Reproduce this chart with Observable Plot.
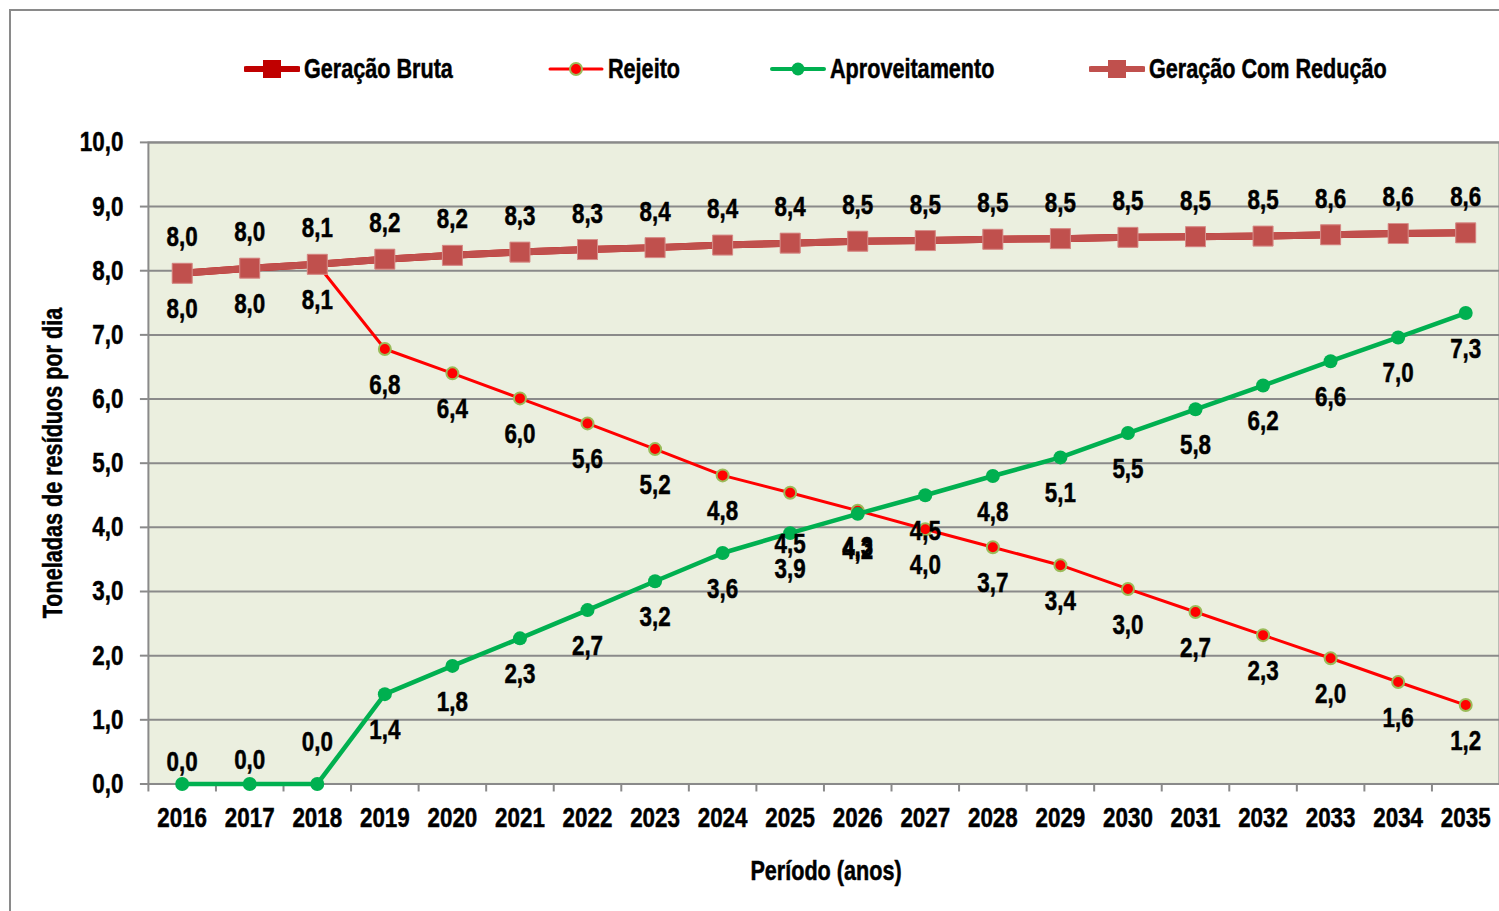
<!DOCTYPE html>
<html>
<head>
<meta charset="utf-8">
<script src="https://cdn.jsdelivr.net/npm/d3@7"></script>
<script src="https://cdn.jsdelivr.net/npm/@observablehq/plot@0.6"></script>
<style>
  html, body { margin: 0; padding: 0; background: #fff; }
  #wrap { position: relative; width: 1499px; height: 911px; overflow: hidden; background: #fff;
    font-family: "Liberation Sans", Arial, sans-serif; font-weight: bold; }
  #border { position: absolute; left: 9px; top: 9px; width: 1600px; height: 1000px; border-top: 2px solid #8a8a8a; border-left: 2px solid #8a8a8a; }
  #chart { position: absolute; left: 0; top: 0; }
  #chart text { stroke: #000; stroke-width: 0.5px; }
  .leg { position: absolute; top: 53px; height: 32px; display: flex; align-items: center; font-size: 27px; color: #000; white-space: nowrap; }
  .leg svg { margin-right: 4px; flex: none; }
  .leg span { display: inline-block; transform: scaleX(0.8); transform-origin: left center; -webkit-text-stroke: 0.5px #000; }
  #ylab { position: absolute; left: 53px; top: 463px; transform: translate(-50%, -50%) rotate(-90deg) scaleX(0.8); font-size: 27px; white-space: nowrap; -webkit-text-stroke: 0.5px #000; }
  #xlab { position: absolute; left: 826px; top: 871px; transform: translate(-50%, -50%) scaleX(0.8); font-size: 27px; white-space: nowrap; -webkit-text-stroke: 0.5px #000; }
</style>
</head>
<body>
<div id="wrap">
  <div id="border"></div>
  <div id="chart"></div>
  <div id="legend"></div>
  <div id="ylab">Toneladas de resíduos por dia</div>
  <div id="xlab">Período (anos)</div>
</div>
<script>
const years = d3.range(2016, 2036);
const geracaoBruta   = [7.96, 8.04, 8.10, 8.18, 8.24, 8.29, 8.33, 8.36, 8.40, 8.43, 8.46, 8.47, 8.49, 8.50, 8.52, 8.53, 8.54, 8.56, 8.58, 8.59];
const geracaoReducao = [7.96, 8.04, 8.10, 8.18, 8.24, 8.29, 8.33, 8.36, 8.40, 8.43, 8.46, 8.47, 8.49, 8.50, 8.52, 8.53, 8.54, 8.56, 8.58, 8.59];
const rejeito        = [7.96, 8.04, 8.10, 6.78, 6.40, 6.01, 5.62, 5.22, 4.81, 4.54, 4.26, 3.97, 3.69, 3.41, 3.04, 2.68, 2.32, 1.96, 1.59, 1.23];
const aproveitamento = [0.00, 0.00, 0.00, 1.40, 1.84, 2.27, 2.71, 3.16, 3.60, 3.91, 4.21, 4.50, 4.80, 5.09, 5.47, 5.84, 6.21, 6.59, 6.96, 7.34];
const yTicks = d3.range(0, 11);
const seriesNames = ["Geração Bruta", "Rejeito", "Aproveitamento", "Geração Com Redução"];

const FONT = '"Liberation Sans", Arial, sans-serif';
const FS = 28;
const fmt = v => v.toFixed(1).replace(".", ",");
const rows = arr => years.map((y, i) => ({year: y, value: arr[i]}));

const bruta = rows(geracaoBruta), red = rows(geracaoReducao), rej = rows(rejeito), apr = rows(aproveitamento);

const C_BRUTA = "#C00000", C_RED = "#C0504D", C_REJ = "#FF0000", C_REJ_S = "#9BBB59", C_APR = "#00B050";
const lbl = (data, dy) => Plot.text(data, {x: "year", y: "value", text: d => fmt(d.value), dy, fontSize: FS, fill: "#000"});
const halfStep = (1500 - 148) / years.length / 2;

const plot = Plot.plot({
  width: 1500,
  height: 911,
  marginLeft: 148,
  marginRight: 0,
  marginTop: 142,
  marginBottom: 127,
  style: {fontFamily: FONT, fontWeight: "bold", fontSize: FS + "px", color: "#000", background: "transparent", overflow: "visible"},
  x: {type: "band", domain: years, padding: 0, round: false},
  y: {domain: [0, 10]},
  marks: [
    Plot.frame({fill: "#EBEFDF"}),
    Plot.ruleY(yTicks, {stroke: "#8a8a8a", strokeWidth: 2}),
    Plot.frame({stroke: "#8a8a8a", strokeWidth: 2}),
    Plot.axisY(yTicks, {tickSize: 8, tickPadding: 17, stroke: "#8a8a8a", strokeWidth: 2, tickFormat: fmt, label: null, fontSize: FS, fill: "#000"}),
    Plot.axisX(years, {tickSize: 8, dx: -halfStep, stroke: "#8a8a8a", strokeWidth: 2, tickFormat: () => "", label: null}),
    Plot.axisX(years, {tickSize: 0, tickPadding: 23, tickFormat: d => String(d), label: null, fontSize: FS, fill: "#000"}),
    // Geração Bruta (hidden beneath Geração Com Redução)
    Plot.line(bruta, {x: "year", y: "value", stroke: C_BRUTA, strokeWidth: 7}),
    Plot.dot(bruta, {x: "year", y: "value", symbol: "square", r: 11.3, fill: C_BRUTA}),
    // Rejeito
    Plot.line(rej, {x: "year", y: "value", stroke: C_REJ, strokeWidth: 3}),
    Plot.dot(rej, {x: "year", y: "value", r: 6, fill: C_REJ, stroke: C_REJ_S, strokeWidth: 2}),
    // Aproveitamento
    Plot.line(apr, {x: "year", y: "value", stroke: C_APR, strokeWidth: 4.5}),
    Plot.dot(apr, {x: "year", y: "value", r: 7, fill: C_APR}),
    // Geração Com Redução
    Plot.line(red, {x: "year", y: "value", stroke: C_RED, strokeWidth: 7}),
    Plot.dot(red, {x: "year", y: "value", symbol: "square", r: 11.3, fill: C_RED, stroke: "#D7918D", strokeWidth: 1}),
    // labels
    lbl(red, -36),
    lbl(rej.filter(d => d.year !== 2025), 36),
    lbl(rej.filter(d => d.year === 2025), 51),
    lbl(apr.filter(d => d.year > 2018), 36),
    lbl(apr.filter(d => d.year === 2016), -22),
    lbl(apr.filter(d => d.year === 2017), -24),
    lbl(apr.filter(d => d.year === 2018), -42)
  ]
});
document.getElementById("chart").appendChild(plot);

// Narrow (condensed) look: scale each SVG text horizontally around its anchor
d3.select(plot).selectAll("text").each(function() {
  const x = +this.getAttribute("x") || 0, y = +this.getAttribute("y") || 0;
  const t = this.getAttribute("transform") || "";
  this.setAttribute("transform", `${t} translate(${x},${y}) scale(0.8,1) translate(${-x},${-y})`);
});

// Legend
const legendItems = [
  {name: seriesNames[0], left: 244, color: C_BRUTA, shape: "square", lw: 6, stroke: null},
  {name: seriesNames[1], left: 548, color: C_REJ, shape: "circle", lw: 3, stroke: C_REJ_S},
  {name: seriesNames[2], left: 770, color: C_APR, shape: "circle", lw: 4, stroke: null},
  {name: seriesNames[3], left: 1089, color: C_RED, shape: "square", lw: 6, stroke: null}
];
const legend = document.getElementById("legend");
legendItems.forEach(it => {
  const div = document.createElement("div");
  div.className = "leg";
  div.style.left = it.left + "px";
  const s = d3.create("svg").attr("width", 56).attr("height", 32);
  s.append("line").attr("x1", 2).attr("x2", 54).attr("y1", 16).attr("y2", 16)
    .attr("stroke", it.color).attr("stroke-width", it.lw).attr("stroke-linecap", "round");
  if (it.shape === "square") {
    s.append("rect").attr("x", 19).attr("y", 7).attr("width", 18).attr("height", 18).attr("fill", it.color);
  } else {
    s.append("circle").attr("cx", 28).attr("cy", 16).attr("r", it.stroke ? 6 : 6.5).attr("fill", it.color)
      .attr("stroke", it.stroke || "none").attr("stroke-width", 2);
  }
  div.appendChild(s.node());
  const t = document.createElement("span");
  t.textContent = it.name;
  div.appendChild(t);
  legend.appendChild(div);
});
</script>
</body>
</html>
